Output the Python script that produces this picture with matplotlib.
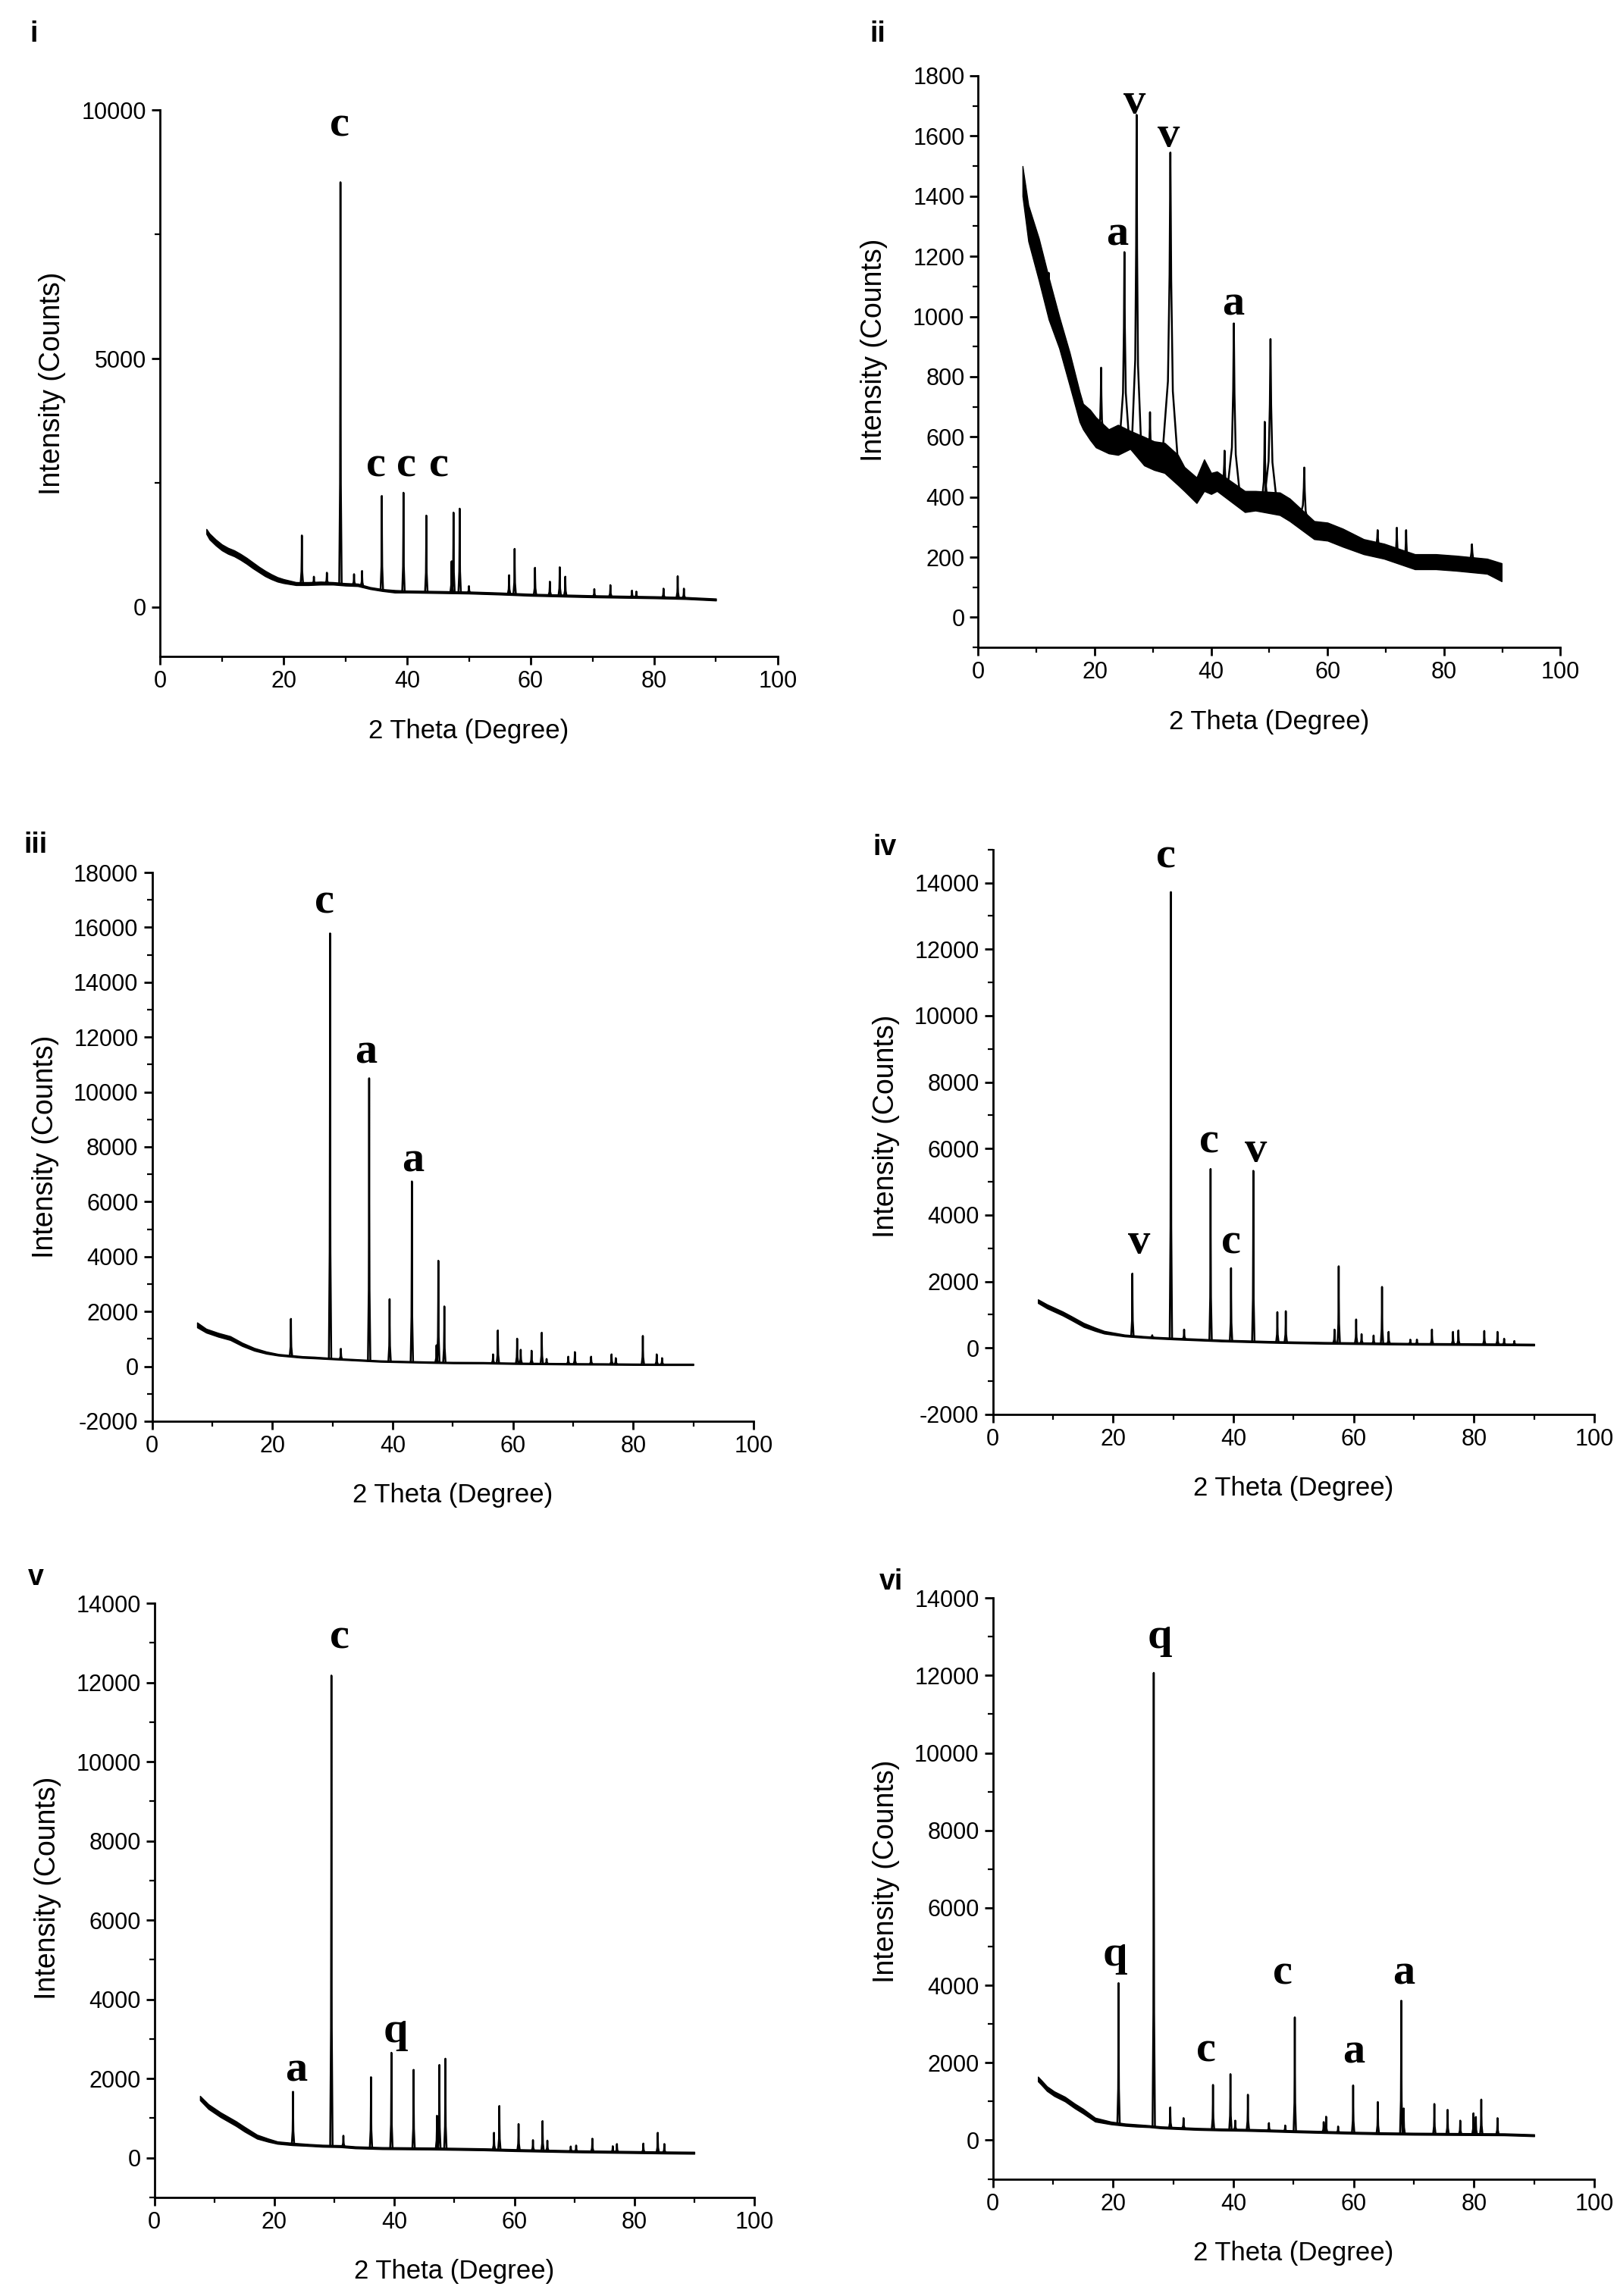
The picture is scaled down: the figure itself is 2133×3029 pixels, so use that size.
import matplotlib
matplotlib.use('Agg')
import matplotlib.pyplot as plt
from matplotlib.ticker import MultipleLocator
import numpy as np

plt.rcParams['font.family'] = ['Liberation Sans', 'DejaVu Sans']
plt.rcParams['axes.unicode_minus'] = False

# ---- panel i ----
bx_i = [7.5, 8, 9, 10, 11, 12, 13, 14, 15, 16, 17, 18, 19, 20, 22, 24, 26, 28, 30, 32, 34, 36, 38, 40, 45, 50, 55, 60, 65, 70, 75, 80, 85, 90]
lo_i = [1470, 1360, 1240, 1140, 1070, 1020, 950, 870, 780, 700, 620, 560, 510, 480, 440, 440, 450, 450, 430, 420, 360, 320, 290, 290, 280, 270, 250, 225, 210, 195, 185, 175, 160, 130]
hi_i = [1570, 1480, 1360, 1260, 1190, 1140, 1070, 990, 900, 810, 730, 660, 600, 560, 500, 500, 510, 500, 480, 470, 400, 360, 340, 330, 320, 310, 290, 265, 250, 235, 225, 215, 200, 170]
px_i = [22.95, 24.9, 27.0, 29.2, 31.4, 32.7, 35.9, 39.4, 43.1, 47.2, 47.5, 48.5, 50.0, 56.5, 57.4, 60.7, 63.1, 64.7, 65.6, 70.3, 72.9, 76.4, 77.1, 81.5, 83.8, 84.8]
ph_i = [1440, 610, 690, 8550, 660, 725, 2235, 2300, 1840, 920, 1900, 1980, 420, 640, 1170, 790, 510, 800, 610, 360, 440, 330, 310, 370, 620, 370]
lab_i = [('c', 29.1, 9690), ('c', 34.9, 2840), ('c', 39.9, 2840), ('c', 45.1, 2840)]

# ---- panel ii (noisy pattern: background given as a band) ----
bx_ii = [7.6, 8.6, 10.4, 12.1, 13.9, 15.7, 17.4, 18.0, 19.2, 20.2, 22.4, 24.0, 26.1, 28.5, 30.2, 32.0, 34.3, 35.4, 37.5, 38.8, 40.0, 41.0, 45.8, 47.6, 51.8, 53.5, 57.7, 60.0, 62.6, 66.2, 69.7, 75.0, 78.6, 82.1, 87.4, 89.9]
lo_ii = [1400, 1250, 1120, 990, 895, 770, 650, 625, 590, 565, 545, 540, 560, 505, 490, 480, 440, 420, 380, 420, 410, 420, 350, 355, 340, 320, 260, 255, 235, 210, 195, 160, 160, 155, 145, 120]
hi_ii = [1500, 1370, 1260, 1130, 1000, 880, 750, 710, 690, 665, 625, 640, 620, 600, 585, 580, 540, 500, 465, 525, 480, 485, 420, 420, 415, 395, 320, 315, 295, 260, 245, 210, 210, 205, 195, 180]
px_ii = [12.1, 21.1, 25.1, 27.2, 29.5, 33.0, 42.3, 43.9, 49.2, 50.2, 56.0, 68.6, 71.9, 73.5, 84.8]
ph_ii = [1145, 830, 1214, 1670, 682, 1545, 554, 977, 650, 925, 498, 290, 298, 290, 243]
pw_ii = [0.2, 0.5, 0.8, 0.8, 0.4, 1.4, 0.5, 1.1, 0.5, 1.1, 0.8, 0.6, 0.4, 0.4, 0.8]
lab_ii = [('a', 23.9, 1273), ('v', 26.9, 1712), ('v', 32.7, 1600), ('a', 43.8, 1041)]

# ---- panel iii ----
bx_iii = [7.5, 9, 11, 13, 15, 17, 19, 21, 23, 25, 27, 30, 34, 38, 42, 46, 50, 55, 60, 65, 70, 75, 80, 85, 90]
lo_iii = [1420, 1230, 1080, 960, 740, 570, 460, 390, 350, 310, 290, 255, 210, 165, 145, 125, 110, 105, 85, 75, 65, 60, 50, 45, 45]
hi_iii = [1600, 1370, 1220, 1100, 860, 670, 540, 450, 410, 370, 350, 305, 260, 215, 195, 175, 160, 155, 135, 125, 115, 110, 100, 95, 95]
px_iii = [23.1, 29.6, 31.4, 36.1, 39.5, 43.2, 47.3, 47.6, 48.6, 56.7, 57.5, 60.7, 61.3, 63.1, 64.8, 65.6, 69.2, 70.3, 73.0, 76.4, 77.1, 81.6, 83.9, 84.8]
ph_iii = [1731, 15780, 640, 10500, 2450, 6740, 770, 3850, 2185, 437, 1310, 1010, 605, 571, 1227, 270, 353, 521, 353, 437, 300, 1110, 437, 300]
lab_iii = [('c', 28.7, 16900), ('a', 35.6, 11450), ('a', 43.4, 7500)]

# ---- panel iv ----
bx_iv = [7.5, 9, 11.6, 13, 15.1, 17, 18.5, 21.9, 25, 27.1, 30, 34, 38, 42, 46, 50, 55, 60, 65, 70, 75, 80, 85, 90]
lo_iv = [1350, 1190, 975, 840, 630, 510, 430, 345, 305, 280, 255, 225, 195, 175, 155, 140, 125, 115, 105, 95, 90, 85, 80, 72]
hi_iv = [1460, 1310, 1095, 960, 750, 610, 510, 400, 355, 330, 305, 275, 245, 225, 205, 190, 175, 165, 155, 145, 140, 135, 130, 122]
px_iv = [23.2, 26.5, 29.6, 31.8, 36.2, 39.6, 43.3, 47.3, 48.7, 56.8, 57.5, 60.4, 61.3, 63.3, 64.7, 65.8, 69.4, 70.5, 73.0, 76.5, 77.4, 81.7, 83.9, 85.0, 86.7]
ph_iv = [2237, 380, 13720, 552, 5385, 2400, 5330, 1077, 1105, 552, 2457, 856, 414, 373, 1836, 483, 248, 250, 552, 483, 525, 510, 483, 276, 207]
lab_iv = [('c', 28.8, 14770), ('c', 35.9, 6210), ('v', 43.7, 5940), ('c', 39.6, 3175), ('v', 24.3, 3175)]

# ---- panel v ----
bx_v = [7.6, 9, 11, 13.6, 15, 17.1, 19, 20.5, 23, 25.7, 28, 31, 33.5, 38, 42, 46, 50, 55, 60, 65, 70, 75, 80, 85, 90]
lo_v = [1450, 1230, 1025, 800, 660, 480, 400, 350, 315, 295, 275, 265, 235, 215, 210, 205, 197, 185, 165, 150, 135, 125, 115, 105, 98]
hi_v = [1560, 1350, 1145, 920, 780, 580, 480, 410, 375, 345, 325, 315, 285, 265, 260, 255, 247, 235, 215, 200, 185, 175, 165, 155, 148]
px_v = [23.1, 29.5, 31.5, 36.1, 39.5, 43.2, 47.1, 47.5, 48.5, 56.6, 57.5, 60.7, 63.1, 64.7, 65.5, 69.4, 70.3, 73.0, 76.4, 77.1, 81.5, 83.9, 85.0]
ph_v = [1664, 12176, 555, 2033, 2650, 2218, 1060, 2342, 2500, 628, 1306, 850, 444, 924, 431, 283, 308, 480, 290, 345, 357, 628, 345]
lab_v = [('c', 30.9, 13125), ('q', 40.2, 3180), ('a', 23.7, 2194)]

# ---- panel vi ----
bx_vi = [7.5, 8, 9, 10.2, 12, 13.6, 15, 17, 19.6, 22, 23.8, 26, 28, 31, 34, 38, 42, 45, 50, 55, 60, 65, 70, 75, 80, 85, 90]
lo_vi = [1520, 1440, 1270, 1140, 1000, 825, 690, 480, 410, 370, 350, 335, 305, 285, 265, 250, 240, 228, 205, 185, 165, 150, 140, 135, 130, 125, 101]
hi_vi = [1640, 1560, 1390, 1260, 1120, 945, 810, 580, 480, 430, 410, 385, 355, 335, 315, 300, 290, 278, 255, 235, 215, 200, 190, 185, 180, 175, 151]
px_vi = [20.9, 26.75, 29.5, 31.7, 36.6, 39.5, 40.3, 42.4, 45.9, 48.6, 50.2, 55.0, 55.4, 57.4, 59.9, 64.0, 67.9, 68.3, 73.4, 75.6, 77.7, 79.9, 80.3, 81.2, 83.9]
ph_vi = [4056, 12067, 847, 570, 1428, 1706, 505, 1175, 442, 380, 3172, 468, 607, 354, 1415, 986, 3601, 820, 935, 783, 505, 695, 600, 1049, 569]
lab_vi = [('q', 27.8, 12990), ('q', 20.3, 4776), ('c', 35.4, 2300), ('c', 48.2, 4296), ('a', 60.0, 2274), ('a', 68.3, 4296)]


def spikes(px, ph, pw, bx, lo, hi):
    # each reflection drawn as a sharp spike rising from the middle of the background band
    mid = (np.array(lo) + np.array(hi)) / 2.0
    xs, ys = [], []
    for x, h, w in zip(px, ph, np.broadcast_to(pw, (len(px),))):
        b0 = np.interp(x - w, bx, mid)
        b1 = np.interp(x + w, bx, mid)
        xs += [x - w, x - 0.3 * w, x - 0.1 * w, x, x + 0.1 * w, x + 0.3 * w, x + w, np.nan]
        ys += [b0, b0 + 0.25 * (h - b0), b0 + 0.6 * (h - b0), h,
               b1 + 0.6 * (h - b1), b1 + 0.25 * (h - b1), b1, np.nan]
    return xs, ys


panels = [
    # name, rect, data, ylim, major, minor, panel-letter pos, ylabel pos
    ('i', [0.099, 0.714, 0.382, 0.238], (bx_i, lo_i, hi_i, px_i, ph_i, 0.2, lab_i), (-1000, 10000), 5000, 2500, (0.021, 0.985), (-0.152, 0.5)),
    ('ii', [0.605, 0.718, 0.360, 0.249], (bx_ii, lo_ii, hi_ii, px_ii, ph_ii, pw_ii, lab_ii), (-100, 1800), 200, 100, (0.543, 0.985), (-0.155, 0.52)),
    ('iii', [0.094, 0.381, 0.372, 0.239], (bx_iii, lo_iii, hi_iii, px_iii, ph_iii, 0.2, lab_iii), (-2000, 18000), 2000, 1000, (0.022, 0.632), (-0.155, 0.5)),
    ('iv', [0.614, 0.384, 0.372, 0.246], (bx_iv, lo_iv, hi_iv, px_iv, ph_iv, 0.2, lab_iv), (-2000, 15000), 2000, 1000, (0.547, 0.631), (-0.155, 0.51)),
    ('v', [0.0955, 0.043, 0.371, 0.2587], (bx_v, lo_v, hi_v, px_v, ph_v, 0.2, lab_v), (-1000, 14000), 2000, 1000, (0.022, 0.313), (-0.155, 0.52)),
    ('vi', [0.614, 0.051, 0.372, 0.253], (bx_vi, lo_vi, hi_vi, px_vi, ph_vi, 0.2, lab_vi), (-1000, 14000), 2000, 1000, (0.551, 0.311), (-0.155, 0.53)),
]

fig = plt.figure(figsize=(2133 / 200, 3029 / 200), dpi=200)

for name, rect, data, ylim, major, minor, lpos, ylpos in panels:
    bx, lo, hi, px, ph, pw, labels = data
    ax = fig.add_axes(rect)
    ax.fill_between(bx, lo, hi, color='black', lw=0.5)
    xs, ys = spikes(px, ph, pw, bx, lo, hi)
    ax.plot(xs, ys, color='black', lw=0.9)

    for t, x, y in labels:
        ax.text(x, y, t, ha='center', va='center', fontsize=21, fontweight='bold',
                family=['Liberation Serif', 'DejaVu Serif'])

    ax.set_xlim(0, 100)
    ax.set_ylim(*ylim)
    ax.xaxis.set_major_locator(MultipleLocator(20))
    ax.xaxis.set_minor_locator(MultipleLocator(10))
    ax.yaxis.set_major_locator(MultipleLocator(major))
    ax.yaxis.set_minor_locator(MultipleLocator(minor))
    ax.spines['top'].set_visible(False)
    ax.spines['right'].set_visible(False)
    for s in ['left', 'bottom']:
        ax.spines[s].set_linewidth(1.0)
    ax.tick_params(which='major', direction='out', length=4, width=1.0, labelsize=11, pad=2.5)
    ax.tick_params(which='minor', direction='out', length=2.5, width=0.8)
    ax.set_xlabel('2 Theta (Degree)', fontsize=12.5, labelpad=12)
    ax.set_ylabel('Intensity (Counts)', fontsize=13.5)
    ax.yaxis.set_label_coords(*ylpos)

    fig.text(lpos[0], lpos[1], name, ha='center', va='center', fontsize=13.5, fontweight='bold',
             family=['Liberation Sans', 'DejaVu Sans'])

fig.savefig('out.png', dpi=200)
